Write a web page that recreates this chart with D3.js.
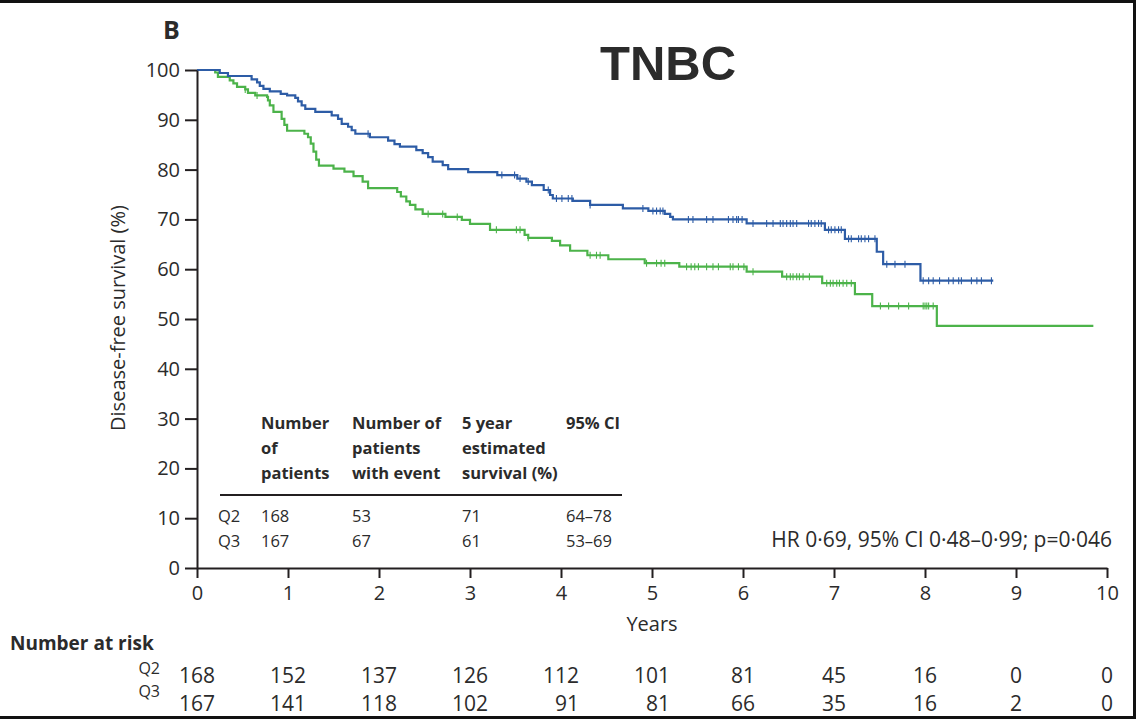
<!DOCTYPE html>
<html><head><meta charset="utf-8">
<script src="https://cdn.jsdelivr.net/npm/d3@7"></script>
<style>
body{margin:0;background:#fff}
svg{display:block}
text{font-family:'Open Sans','Noto Sans',sans-serif;fill:#2b2b2b}
</style>
</head><body><svg id="chart" width="1140" height="721"></svg>
<script>
// ---------------- data ----------------
const xTicks = [0,1,2,3,4,5,6,7,8,9,10];
const yTicks = [0,10,20,30,40,50,60,70,80,90,100];

// Q2 (blue) Kaplan-Meier steps: time of drop (years) and survival (%) after the drop
const q2Times = [0,0.25,0.34,0.60,0.66,0.69,0.73,0.80,0.92,0.99,1.08,1.11,1.15,1.19,1.30,1.48,1.55,1.59,1.66,1.70,1.74,1.90,2.10,2.17,2.23,2.41,2.48,2.54,2.59,2.70,2.76,2.98,3.30,3.52,3.62,3.68,3.81,3.88,3.91,4.13,4.32,4.68,4.96,5.14,5.20,5.23,6.04,6.90,7.12,7.47,7.54,7.95];
const q2Surv  = [100,99.4,98.8,98.1,97.5,96.8,96.2,95.7,95.2,94.9,94.4,93.7,92.9,92.2,91.6,90.9,90.2,89.2,88.6,87.9,87.2,86.5,85.8,85.1,84.6,83.9,83.3,82.5,81.6,80.9,80.1,79.5,78.9,78.2,77.6,76.9,75.9,74.9,74.2,73.7,72.9,72.2,71.7,71.1,70.5,70.0,69.2,67.9,66.1,63.5,61.0,57.7];
const q2End = 8.75;
const q2Censor = [1.88,3.35,3.49,3.55,3.64,3.86,3.95,4.01,4.08,4.12,4.32,4.90,5.01,5.05,5.09,5.12,5.40,5.45,5.60,5.67,5.84,5.89,5.93,5.95,5.99,6.11,6.26,6.33,6.41,6.44,6.48,6.52,6.55,6.59,6.72,6.75,6.79,6.83,6.86,6.94,6.97,7.01,7.05,7.08,7.16,7.19,7.27,7.30,7.34,7.38,7.45,7.58,7.67,7.78,7.98,8.04,8.09,8.16,8.26,8.31,8.37,8.40,8.51,8.57,8.62,8.73];

// Q3 (green)
const q3Times = [0,0.20,0.23,0.36,0.40,0.44,0.53,0.56,0.64,0.77,0.78,0.80,0.84,0.93,0.96,0.99,1.18,1.22,1.25,1.28,1.31,1.34,1.50,1.62,1.72,1.82,1.88,2.20,2.24,2.30,2.34,2.40,2.48,2.73,2.91,3.00,3.22,3.60,3.64,3.90,3.99,4.10,4.29,4.52,4.92,5.30,6.04,6.43,6.87,7.23,7.42,8.13];
const q3Surv  = [100,99.5,98.6,97.9,97.3,96.6,96.1,95.4,94.9,94.6,93.9,92.9,91.6,90.2,89.0,87.8,87.2,86.5,85.2,83.6,82.0,80.8,80.2,79.6,78.7,77.6,76.3,75.5,74.6,73.6,72.9,72.0,71.1,70.5,69.9,69.1,67.9,66.9,66.3,65.7,64.8,63.7,62.8,62.0,61.2,60.5,59.5,58.5,57.2,55.0,52.6,48.6];
const q3End = 9.85;
const q3Censor = [0.53,0.66,2.54,2.70,2.86,3.29,3.51,3.55,3.64,4.32,4.39,4.43,4.94,5.05,5.10,5.14,5.38,5.43,5.47,5.51,5.60,5.67,5.73,5.86,5.89,5.95,6.01,6.11,6.48,6.52,6.55,6.59,6.62,6.66,6.73,6.92,6.96,6.99,7.03,7.06,7.10,7.14,7.19,7.51,7.60,7.71,7.82,7.98,8.00,8.02,8.04,8.09];

const riskLabels = ["Q2","Q3"];
const riskQ2 = [168,152,137,126,112,101,81,45,16,0,0];
const riskQ3 = [167,141,118,102,91,81,66,35,16,2,0];

const tableHeaders = [["Number","of","patients"],["Number of","patients","with event"],["5 year","estimated","survival (%)"],["95% CI"]];
const tableRowQ2 = ["Q2","168","53","71","64–78"];
const tableRowQ3 = ["Q3","167","67","61","53–69"];

const hrText = "HR 0·69, 95% CI 0·48–0·99; p=0·046";
const panelLabel = "B";
const titleText = "TNBC";
const xLabel = "Years";
const yLabel = "Disease-free survival (%)";

// ---------------- drawing ----------------
const svg = d3.select("#chart");
const ink = "#231f20";
const blue = "#2d5ca6";
const green = "#4cb34a";

const x = d3.scaleLinear().domain([0,10]).range([197,1107]);
const y = d3.scaleLinear().domain([0,100]).range([568,70]);

function stepPoints(times, surv, end){
  const pts = times.map((t,i)=>[t,surv[i]]);
  pts.push([end, surv[surv.length-1]]);
  return pts;
}
function survAt(times, surv, t){
  let v = surv[0];
  for(let i=0;i<times.length;i++){ if(times[i] <= t) v = surv[i]; }
  return v;
}
const line = d3.line().x(d=>x(d[0])).y(d=>y(d[1])).curve(d3.curveStepAfter);

const groups = [
  {times:q3Times, surv:q3Surv, end:q3End, censor:q3Censor, color:green},
  {times:q2Times, surv:q2Surv, end:q2End, censor:q2Censor, color:blue}
];
groups.forEach(g=>{
  svg.append("path").datum(stepPoints(g.times,g.surv,g.end))
    .attr("d",line).attr("fill","none").attr("stroke",g.color).attr("stroke-width",2.2);
  svg.append("g").selectAll("line").data(g.censor).join("line")
    .attr("x1",d=>x(d)).attr("x2",d=>x(d))
    .attr("y1",d=>y(survAt(g.times,g.surv,d))-3.5)
    .attr("y2",d=>y(survAt(g.times,g.surv,d))+3.5)
    .attr("stroke",g.color).attr("stroke-width",1.1);
});

// axes
const yAxis = svg.append("g").attr("transform",`translate(${x(0)},0)`)
  .call(d3.axisLeft(y).tickValues(yTicks).tickSize(12).tickSizeOuter(0).tickPadding(5));
const xAxis = svg.append("g").attr("transform",`translate(0,${y(0)})`)
  .call(d3.axisBottom(x).tickValues(xTicks).tickSize(10).tickSizeOuter(0).tickPadding(8));
[yAxis,xAxis].forEach(a=>{
  a.select(".domain").attr("stroke",ink).attr("stroke-width",2);
  a.selectAll(".tick line").attr("stroke",ink).attr("stroke-width",2);
  a.selectAll(".tick text").style("font-family","'Open Sans',sans-serif").style("font-size","20px").attr("fill","#333");
});

// axis titles
svg.append("text").attr("x",x(5)).attr("y",631).attr("text-anchor","middle")
  .style("font-size","20px").attr("fill","#333").text(xLabel);
svg.append("text").attr("transform","translate(125,318) rotate(-90)").attr("text-anchor","middle")
  .style("font-size","20px").attr("fill","#333").text(yLabel);

// panel label and title
svg.append("text").attr("x",163).attr("y",39).style("font-size","25px").style("font-weight","700")
  .attr("fill",ink).text(panelLabel);
svg.append("text").attr("x",668).attr("y",80).attr("text-anchor","middle")
  .style("font-family","'Liberation Sans',Arial,sans-serif").style("font-size","49px").style("font-weight","700")
  .attr("fill","#000").text(titleText);

// in-plot table
const colX = [261,352,462,566];
const headY = [429,454,479];
tableHeaders.forEach((lines,ci)=>{
  lines.forEach((s,li)=>{
    svg.append("text").attr("x",colX[ci]).attr("y",headY[li])
      .style("font-size","16.5px").style("font-weight","700").attr("fill",ink).text(s);
  });
});
svg.append("line").attr("x1",220).attr("x2",622).attr("y1",495).attr("y2",495)
  .attr("stroke",ink).attr("stroke-width",2);
[tableRowQ2,tableRowQ3].forEach((row,ri)=>{
  const by = 522 + ri*24.5;
  svg.append("text").attr("x",218).attr("y",by).style("font-size","16.5px").attr("fill","#555").text(row[0]);
  row.slice(1).forEach((s,ci)=>{
    svg.append("text").attr("x",colX[ci]).attr("y",by).style("font-size","16.5px").attr("fill","#333").text(s);
  });
});

// HR annotation
svg.append("text").attr("x",1112).attr("y",547).attr("text-anchor","end")
  .style("font-size","21px").attr("fill","#333").text(hrText);

// number at risk
svg.append("text").attr("x",10).attr("y",650).style("font-size","19px").style("font-weight","700")
  .attr("fill",ink).text("Number at risk");
const riskBase = [683,711];
const labelBase = [674,697];
riskLabels.forEach((lab,i)=>{
  svg.append("text").attr("x",160).attr("y",labelBase[i]).attr("text-anchor","end")
    .style("font-size","16px").attr("fill","#555").text(lab);
});
const q2Texts = svg.append("g").selectAll("text").data(riskQ2).join("text")
  .attr("x",(d,i)=>x(xTicks[i])).attr("y",riskBase[0]).attr("text-anchor","middle")
  .style("font-size","21px").attr("fill","#333").text(d=>d);
const halfW = [];
q2Texts.each(function(){ halfW.push(this.getComputedTextLength()/2); });
svg.append("g").selectAll("text").data(riskQ3).join("text")
  .attr("x",(d,i)=>x(xTicks[i])+halfW[i]).attr("y",riskBase[1]).attr("text-anchor","end")
  .style("font-size","21px").attr("fill","#333").text(d=>d);

// frame (top, right, bottom)
svg.append("path").attr("d","M0,1.5 H1134.5 V717.5 H0").attr("fill","none")
  .attr("stroke","#111").attr("stroke-width",3);
</script>
</body></html>
